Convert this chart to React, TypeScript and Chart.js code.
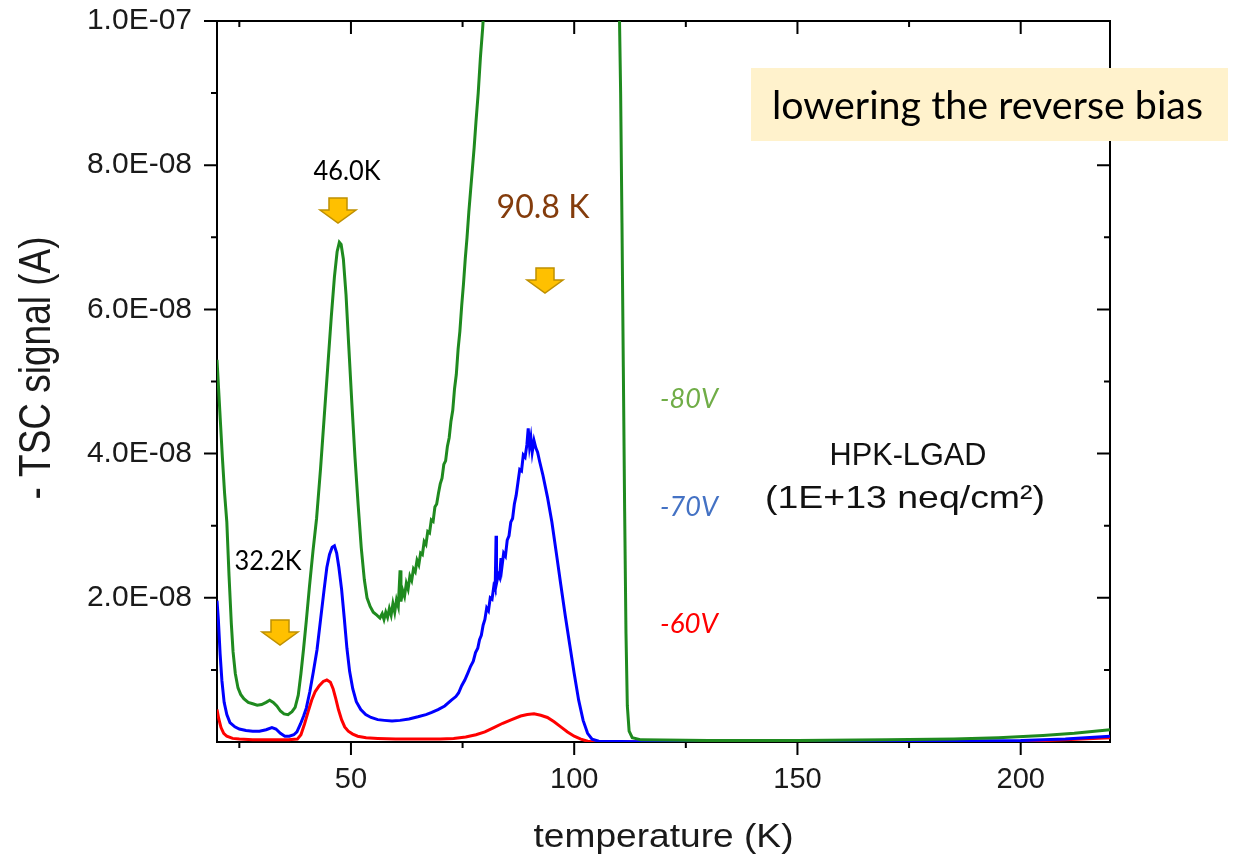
import React, { useEffect, useRef } from 'react';
import { Chart, registerables } from 'chart.js';

Chart.register(...registerables);

// ---------------- data (temperature in K, signal in units of 1E-08 A) ----------------
const X_MIN = 20;
const X_MAX = 220;
const Y_MAX = 1e-7;
const UNIT = 1e-8;

const xMajorTicks = [50, 100, 150, 200];
const xMinorTicks = [25, 75, 125, 175];
const yMajorTicks = [2, 4, 6, 8, 10];
const yMinorTicks = [1, 3, 5, 7, 9];
const yTickLabels = ['2.0E-08', '4.0E-08', '6.0E-08', '8.0E-08', '1.0E-07'];

const seriesNames = ['-80V', '-70V', '-60V'];

const greenT = [
  20.0, 20.4, 20.8, 21.2, 21.7, 22.2, 22.7, 23.2, 23.6, 24.1, 24.7, 25.3, 26.0, 27.0, 28.0, 29.0, 30.0, 31.0, 31.8, 32.6,
  33.4, 34.2, 35.0, 35.9, 36.8, 37.5, 38.2, 38.8, 39.4, 40.0, 40.7, 41.5, 42.3, 43.2, 44.0, 44.8, 45.6, 46.3, 46.9, 47.4,
  47.8, 48.3, 48.9, 49.5, 50.2, 50.9, 51.6, 52.3, 53.0, 53.6, 54.3, 55.0, 55.8, 56.5,
  57.0, 57.4, 57.8, 58.2, 58.6, 59.0, 59.4, 59.8, 60.2, 60.6, 61.0, 61.2, 61.6, 62.0, 62.4, 62.8, 63.2, 63.6, 64.0, 64.4,
  64.8, 65.2, 65.6, 66.0, 66.4, 66.8, 67.2, 67.6, 68.0, 68.4, 68.8, 69.2, 69.6, 70.0, 70.4, 70.8, 71.2, 71.6, 72.0, 72.4,
  72.8, 73.2, 73.6, 74.0, 74.4, 74.8, 75.2, 75.6, 76.0, 76.4, 76.8, 77.2, 77.6, 78.0, 78.5, 79.0, 79.5, 80.0,
  81.0, 83.0, 86.0, 90.0, 95.0, 100.0, 105.0, 108.0, 109.5, 110.0, 110.4, 110.7, 111.0, 111.3, 111.6, 111.9, 112.3, 113.0,
  115.0, 130.0, 150.0, 170.0, 185.0, 195.0, 205.0, 212.0, 220.0,
];
const greenV = [
  5.30, 4.85, 4.40, 3.95, 3.45, 3.05, 2.30, 1.65, 1.25, 0.95, 0.75, 0.66, 0.60, 0.55, 0.53, 0.51, 0.52, 0.55, 0.58, 0.55,
  0.50, 0.43, 0.39, 0.38, 0.42, 0.48, 0.65, 0.95, 1.30, 1.68, 2.15, 2.65, 3.10, 3.80, 4.50, 5.20, 5.90, 6.45, 6.80, 6.93,
  6.90, 6.70, 6.20, 5.50, 4.70, 3.95, 3.30, 2.70, 2.25, 2.00, 1.88, 1.80, 1.76, 1.72,
  1.78, 1.70, 1.80, 1.73, 1.85, 1.76, 1.92, 1.80, 1.97, 1.88, 2.38, 1.95, 2.10, 2.02, 2.20, 2.12, 2.30, 2.24, 2.40, 2.36,
  2.52, 2.46, 2.62, 2.60, 2.78, 2.74, 2.92, 2.90, 3.08, 3.06, 3.26, 3.30, 3.45, 3.58, 3.66, 3.85, 3.90, 4.10, 4.22, 4.45,
  4.60, 4.90, 5.10, 5.45, 5.70, 6.05, 6.35, 6.70, 7.00, 7.35, 7.65, 7.95, 8.25, 8.60, 9.00, 9.50, 9.90, 10.40,
  11.5, 13.5, 16.0, 18.5, 20.5, 21.0, 19.5, 16.5, 12.5, 10.6, 9.0, 7.2, 5.2, 3.2, 1.5, 0.5, 0.15, 0.06,
  0.03, 0.02, 0.02, 0.03, 0.04, 0.06, 0.09, 0.12, 0.17,
];

const blueT = [
  20.0, 20.3, 20.7, 21.1, 21.6, 22.2, 22.9, 24.0, 25.0, 26.5, 28.0, 29.5, 31.0, 32.3, 33.2, 34.2, 35.2, 36.2, 37.2, 37.9,
  38.7, 39.4, 40.0, 40.8, 41.6, 42.4, 43.2, 44.0, 44.6, 45.2, 45.8, 46.3, 46.8, 47.3, 47.9, 48.5, 49.1, 49.7, 50.4, 51.2,
  52.2, 53.3, 54.5, 56.0, 57.5, 59.2, 61.0, 63.0, 65.0, 66.8, 68.1, 69.5, 71.0, 72.5, 73.5, 74.1, 74.8, 75.5, 76.2, 76.8,
  77.4, 77.9, 78.4, 78.8, 79.2, 79.6, 80.0, 80.4, 80.8, 81.2, 81.6, 82.0, 82.3, 82.5, 82.6, 83.0, 83.3, 83.6, 83.8, 84.2,
  84.6, 85.0, 85.4, 85.8, 86.2, 86.6, 87.0, 87.4, 87.8, 88.2, 88.6, 89.0, 89.4, 89.7, 90.0, 90.3, 90.6, 91.0, 91.4, 91.8,
  92.3, 93.0, 94.0, 95.0, 96.0, 97.0, 98.0, 99.0, 100.0, 101.0, 102.0, 103.0, 104.0, 105.5, 120.0, 150.0, 180.0, 200.0,
  210.0, 220.0,
];
const blueV = [
  1.96, 1.70, 1.22, 0.85, 0.55, 0.38, 0.27, 0.21, 0.18, 0.16, 0.15, 0.15, 0.17, 0.20, 0.18, 0.12, 0.08, 0.08, 0.10, 0.14,
  0.25, 0.36, 0.47, 0.70, 0.98, 1.28, 1.70, 2.12, 2.42, 2.60, 2.70, 2.72, 2.62, 2.42, 2.12, 1.72, 1.30, 0.98, 0.74, 0.56,
  0.45, 0.38, 0.34, 0.31, 0.30, 0.29, 0.30, 0.32, 0.35, 0.38, 0.41, 0.45, 0.50, 0.58, 0.63, 0.68, 0.78, 0.86, 0.96, 1.05,
  1.12, 1.24, 1.30, 1.42, 1.48, 1.62, 1.70, 1.86, 1.82, 2.00, 1.98, 2.16, 2.12, 2.86, 2.20, 2.32, 2.28, 2.55, 2.42, 2.62,
  2.58, 2.80, 2.86, 3.05, 3.10, 3.30, 3.42, 3.60, 3.78, 3.76, 3.98, 3.95, 4.12, 4.35, 4.10, 4.22, 4.02, 4.18, 4.08, 4.02,
  3.88, 3.70, 3.40, 3.05, 2.62, 2.18, 1.75, 1.35, 0.95, 0.58, 0.30, 0.12, 0.04, 0.01, 0.0, 0.0, 0.01, 0.02,
  0.04, 0.08,
];

const redT = [
  20.0, 20.4, 20.9, 21.5, 22.2, 23.5, 25.0, 28.0, 32.0, 36.0, 38.0, 38.8, 39.6, 40.4, 41.2, 42.0, 42.9, 43.8, 44.6, 45.4,
  46.0, 46.6, 47.2, 47.9, 48.6, 49.4, 50.4, 51.5, 53.4, 56.0, 60.0, 65.0, 70.0, 73.0, 75.7, 78.0, 80.0, 82.0, 84.0, 86.0,
  88.0, 89.5, 91.0, 92.5, 94.0, 95.5, 97.0, 98.5, 100.0, 101.5, 103.0, 104.5, 130.0, 170.0, 200.0, 210.0, 220.0,
];
const redV = [
  0.45, 0.32, 0.20, 0.12, 0.08, 0.05, 0.04, 0.03, 0.03, 0.03, 0.04, 0.10, 0.25, 0.42, 0.58, 0.70, 0.78, 0.84, 0.86, 0.83,
  0.74, 0.60, 0.45, 0.31, 0.21, 0.15, 0.11, 0.08, 0.06, 0.05, 0.04, 0.04, 0.04, 0.05, 0.07, 0.10, 0.14, 0.20, 0.26, 0.31,
  0.36, 0.38, 0.39, 0.37, 0.34, 0.28, 0.21, 0.14, 0.08, 0.04, 0.01, 0.0, 0.0, 0.0, 0.01, 0.03, 0.06,
];

// ---------------- styling ----------------
const COLORS = ['#1f8a1f', '#0000ff', '#ff0000'];
const AXIS_FONT = '"Liberation Sans", Arial, sans-serif';
const NOTE_FONT = 'Lato, "Open Sans", sans-serif';

const PLOT_LEFT = 217;
const PLOT_TOP = 21;
const PLOT_RIGHT = 1110;
const PLOT_BOTTOM = 742;
const W = 1242;
const H = 857;

function toPoints(ts: number[], vs: number[]) {
  return ts.map((t, i) => ({ x: t, y: vs[i] * UNIT }));
}

// draw text at a given font size, stretched horizontally to a target width
function drawText(
  ctx: CanvasRenderingContext2D,
  text: string,
  x: number,
  y: number,
  size: number,
  family: string,
  style: string,
  targetW: number,
  align: CanvasTextAlign,
) {
  ctx.font = `${style} ${size}px ${family}`;
  const w = ctx.measureText(text).width;
  ctx.save();
  ctx.translate(x, y);
  ctx.scale(targetW / w, 1);
  ctx.textAlign = align;
  ctx.textBaseline = 'alphabetic';
  ctx.fillText(text, 0, 0);
  ctx.restore();
}

function drawArrow(ctx: CanvasRenderingContext2D, cx: number, top: number) {
  const shaftW = 18, shaftH = 12, headW = 36, headH = 13;
  ctx.save();
  ctx.beginPath();
  ctx.moveTo(cx - shaftW / 2, top);
  ctx.lineTo(cx + shaftW / 2, top);
  ctx.lineTo(cx + shaftW / 2, top + shaftH);
  ctx.lineTo(cx + headW / 2, top + shaftH);
  ctx.lineTo(cx, top + shaftH + headH);
  ctx.lineTo(cx - headW / 2, top + shaftH);
  ctx.lineTo(cx - shaftW / 2, top + shaftH);
  ctx.closePath();
  ctx.fillStyle = '#FFC000';
  ctx.fill();
  ctx.strokeStyle = '#BF9000';
  ctx.lineWidth = 1.5;
  ctx.stroke();
  ctx.restore();
}

const framePlugin = {
  id: 'frame',
  beforeDatasetsDraw(chart: any) {
    const { ctx, chartArea: a, scales } = chart;
    const xs = scales.x, ys = scales.y;
    ctx.save();
    ctx.strokeStyle = '#000';
    ctx.lineWidth = 2;
    ctx.strokeRect(a.left, a.top, a.right - a.left, a.bottom - a.top);
    const MAJ = 13, MIN = 6;
    ctx.beginPath();
    const xt = (v: number, len: number) => {
      const p = xs.getPixelForValue(v);
      ctx.moveTo(p, a.bottom); ctx.lineTo(p, a.bottom + len);
      ctx.moveTo(p, a.top); ctx.lineTo(p, a.top + len);
    };
    const yt = (v: number, len: number) => {
      const p = ys.getPixelForValue(v * UNIT);
      ctx.moveTo(a.left, p); ctx.lineTo(a.left - len, p);
      ctx.moveTo(a.right, p); ctx.lineTo(a.right - len, p);
    };
    xMajorTicks.forEach((v) => xt(v, MAJ));
    xMinorTicks.forEach((v) => xt(v, MIN));
    yMajorTicks.forEach((v) => yt(v, MAJ));
    yMinorTicks.forEach((v) => yt(v, MIN));
    ctx.stroke();
    ctx.restore();
  },
};

const notesPlugin = {
  id: 'notes',
  afterDraw(chart: any) {
    const ctx: CanvasRenderingContext2D = chart.ctx;
    ctx.save();

    // axis titles
    ctx.fillStyle = '#1a1a1a';
    drawText(ctx, 'temperature (K)', (PLOT_LEFT + PLOT_RIGHT) / 2, 847, 34, AXIS_FONT, 'normal', 260, 'center');
    ctx.save();
    ctx.translate(50, 368);
    ctx.rotate(-Math.PI / 2);
    drawText(ctx, '- TSC signal (A)', 0, 0, 44, AXIS_FONT, 'normal', 263, 'center');
    ctx.restore();

    // box label
    ctx.fillStyle = '#FFF2CC';
    ctx.fillRect(751, 68, 477, 73);
    ctx.fillStyle = '#000';
    drawText(ctx, 'lowering the reverse bias', 772, 119, 39, NOTE_FONT, 'normal', 431, 'left');

    // peak labels
    ctx.fillStyle = '#000';
    drawText(ctx, '46.0K', 347, 180, 27, NOTE_FONT, 'normal', 67, 'center');
    drawText(ctx, '32.2K', 268, 570, 26, NOTE_FONT, 'normal', 67, 'center');
    ctx.fillStyle = '#843C0C';
    drawText(ctx, '90.8 K', 543, 218, 32, NOTE_FONT, 'normal', 93, 'center');

    drawArrow(ctx, 338, 198);
    drawArrow(ctx, 545, 268);
    drawArrow(ctx, 280, 620);

    // bias labels
    const biasColors = ['#70AD47', '#4472C4', '#FF0000'];
    const biasY = [408, 516, 633];
    seriesNames.forEach((name, i) => {
      ctx.fillStyle = biasColors[i];
      drawText(ctx, name, 689, biasY[i], 27, NOTE_FONT, 'italic', 58, 'center');
    });

    // sample label
    ctx.fillStyle = '#111';
    drawText(ctx, 'HPK-LGAD', 908, 465, 32, AXIS_FONT, 'normal', 157, 'center');
    drawText(ctx, '(1E+13 neq/cm\u00B2)', 905, 508, 32, AXIS_FONT, 'normal', 280, 'center');

    ctx.restore();
  },
};

export default function App() {
  const canvasRef = useRef<HTMLCanvasElement | null>(null);

  useEffect(() => {
    document.body.style.margin = '0';
    const canvas = canvasRef.current;
    if (!canvas) return;
    const series = [toPoints(greenT, greenV), toPoints(blueT, blueV), toPoints(redT, redV)];
    const chart = new Chart(canvas, {
      type: 'line',
      data: {
        datasets: series.map((pts, i) => ({
          label: seriesNames[i],
          data: pts,
          borderColor: COLORS[i],
          backgroundColor: COLORS[i],
          borderWidth: 3,
          pointRadius: 0,
          tension: 0,
          fill: false,
        })),
      },
      options: {
        animation: false,
        responsive: false,
        devicePixelRatio: 1,
        events: [],
        layout: { padding: { top: PLOT_TOP, right: W - PLOT_RIGHT, left: 0, bottom: 0 } },
        plugins: { legend: { display: false }, tooltip: { enabled: false }, title: { display: false } },
        scales: {
          x: {
            type: 'linear',
            min: X_MIN,
            max: X_MAX,
            grid: { display: false, drawTicks: false },
            border: { display: false },
            afterBuildTicks: (s: any) => {
              s.ticks = [...xMinorTicks, ...xMajorTicks].sort((a, b) => a - b).map((v) => ({ value: v }));
            },
            afterFit: (s: any) => {
              s.height = H - PLOT_BOTTOM;
              s.paddingLeft = 0;
              s.paddingRight = 0;
            },
            ticks: {
              autoSkip: false,
              maxRotation: 0,
              padding: 21,
              color: '#1a1a1a',
              font: { family: AXIS_FONT, size: 29 },
              callback: (v: any) => (xMajorTicks.includes(Number(v)) ? String(v) : ''),
            },
          },
          y: {
            type: 'linear',
            min: 0,
            max: Y_MAX,
            grid: { display: false, drawTicks: false },
            border: { display: false },
            afterBuildTicks: (s: any) => {
              s.ticks = [0, ...yMinorTicks, ...yMajorTicks].sort((a, b) => a - b).map((v) => ({ value: v * UNIT }));
            },
            afterFit: (s: any) => {
              s.width = PLOT_LEFT;
              s.paddingTop = 0;
              s.paddingBottom = 0;
            },
            ticks: {
              autoSkip: false,
              padding: 25,
              color: '#1a1a1a',
              font: { family: AXIS_FONT, size: 30 },
              callback: (v: any) => {
                const k = Math.round(Number(v) / UNIT);
                const idx = yMajorTicks.indexOf(k);
                return idx >= 0 ? yTickLabels[idx] : '';
              },
            },
          },
        },
      },
      plugins: [framePlugin, notesPlugin],
    } as any);
    return () => chart.destroy();
  }, []);

  return (
    <div style={{ position: 'absolute', left: 0, top: 0, width: W, height: H, background: '#fff' }}>
      <canvas ref={canvasRef} width={W} height={H} style={{ display: 'block', width: W, height: H }} />
    </div>
  );
}
